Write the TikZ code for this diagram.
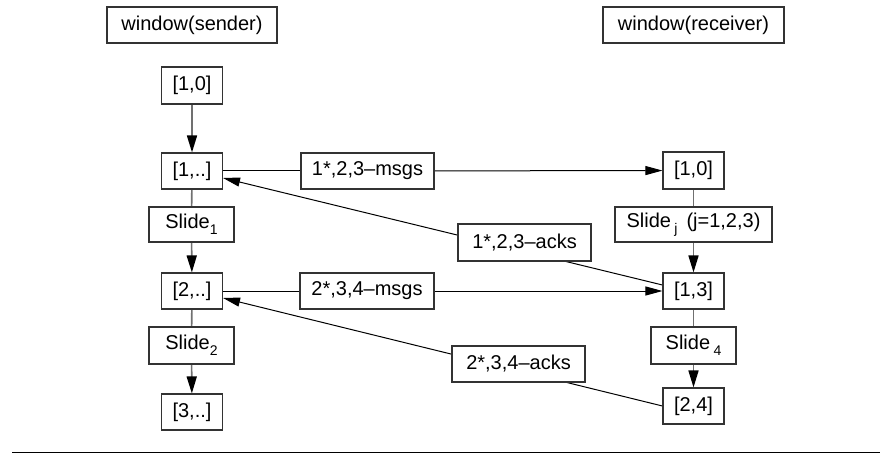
\documentclass[tikz,border=0pt]{standalone}
\usepackage{fontspec}
\setmainfont{Liberation Sans}
\usetikzlibrary{arrows.meta,backgrounds}
\newcommand\subt[1]{\raisebox{-5.5pt}{\fontsize{14}{14}\selectfont #1}}
\definecolor{boxline}{HTML}{333333}
\definecolor{vline}{HTML}{707070}
\tikzset{
  box/.style={draw=boxline, line width=1.1pt, fill=white, inner sep=0pt,
    font=\fontsize{20}{23}\selectfont},
  vconn/.style={draw=vline, line width=1.6pt},
  hconn/.style={draw=black, line width=1pt},
  tip/.style={-{Triangle[length=17pt,width=10pt,color=black,fill=black]}},
  htip/.style={-{Triangle[length=17pt,width=9pt,color=black,fill=black]}}
}
\begin{document}
\begin{tikzpicture}[x=1pt,y=-1pt]
\useasboundingbox (0,0) rectangle (882,454);
% headers
\node[box, minimum width=170pt, minimum height=36pt] (ws) at (192,25) {window(sender)};
\node[box, minimum width=181pt, minimum height=36pt] (wr) at (693.5,25) {window(receiver)};
% sender column
\node[box, minimum width=61pt, minimum height=37pt] (s0) at (192,85.5) {[1,0]};
\node[box, minimum width=61pt, minimum height=36pt] (s1) at (192,171) {[1,..]};
\node[box, minimum width=85pt, minimum height=35pt] (sl1) at (191.5,224.5) {Slide\subt{1}};
\node[box, minimum width=61pt, minimum height=36pt] (s2) at (192,291) {[2,..]};
\node[box, minimum width=85pt, minimum height=37pt] (sl2) at (191.5,345.5) {Slide\subt{2}};
\node[box, minimum width=61pt, minimum height=36pt] (s3) at (192,412) {[3,..]};
% receiver column
\node[box, minimum width=61pt, minimum height=37pt] (r0) at (693.5,170.5) {[1,0]};
\node[box, minimum width=157pt, minimum height=35pt] (slj) at (693.5,224.5) {Slide\,\subt{j}\hspace{9pt}(j=1,2,3)};
\node[box, minimum width=61pt, minimum height=36pt] (r13) at (693.5,291) {[1,3]};
\node[box, minimum width=85pt, minimum height=37pt] (sl4) at (693.5,345.5) {Slide\,\subt{4}};
\node[box, minimum width=61pt, minimum height=36pt] (r24) at (693.5,406) {[2,4]};
% message / ack labels
\node[box, minimum width=133pt, minimum height=36pt] (m1) at (367.5,171) {1*,2,3\textendash msgs};
\node[box, minimum width=134pt, minimum height=36pt] (m2) at (367,291) {2*,3,4\textendash msgs};
\node[box, minimum width=133pt, minimum height=37pt] (a1) at (524.5,242.5) {1*,2,3\textendash acks};
\node[box, minimum width=133pt, minimum height=36pt] (a2) at (518.5,364) {2*,3,4\textendash acks};
\begin{scope}[on background layer]
% vertical connectors
\draw[vconn, tip] (s0) -- (s1);
\draw[vconn] (s1) -- (sl1);
\draw[vconn, tip] (sl1) -- (s2);
\draw[vconn] (s2) -- (sl2);
\draw[vconn, tip] (sl2) -- (s3);
\draw[vconn] (r0) -- (slj);
\draw[vconn, tip] (slj) -- (r13);
\draw[vconn] (r13) -- (sl4);
\draw[vconn, tip] (sl4) -- (r24);
% messages
\draw[hconn] (s1) -- (m1);
\draw[hconn, htip] (m1) -- (r0);
\draw[hconn] (s2) -- (m2);
\draw[hconn, htip] (m2) -- (r13);
% acks
\draw[hconn, htip] ([yshift=6pt]r13.west) -- ([yshift=-7pt]s1.east);
\draw[hconn, htip] (r24.west) -- ([yshift=-7pt]s2.east);
\end{scope}
% bottom rule
\coordinate (bl) at (12,452.5);
\coordinate (br) at (880,452.5);
\draw[line width=1.2pt] (bl) -- (br);
\end{tikzpicture}
\end{document}
